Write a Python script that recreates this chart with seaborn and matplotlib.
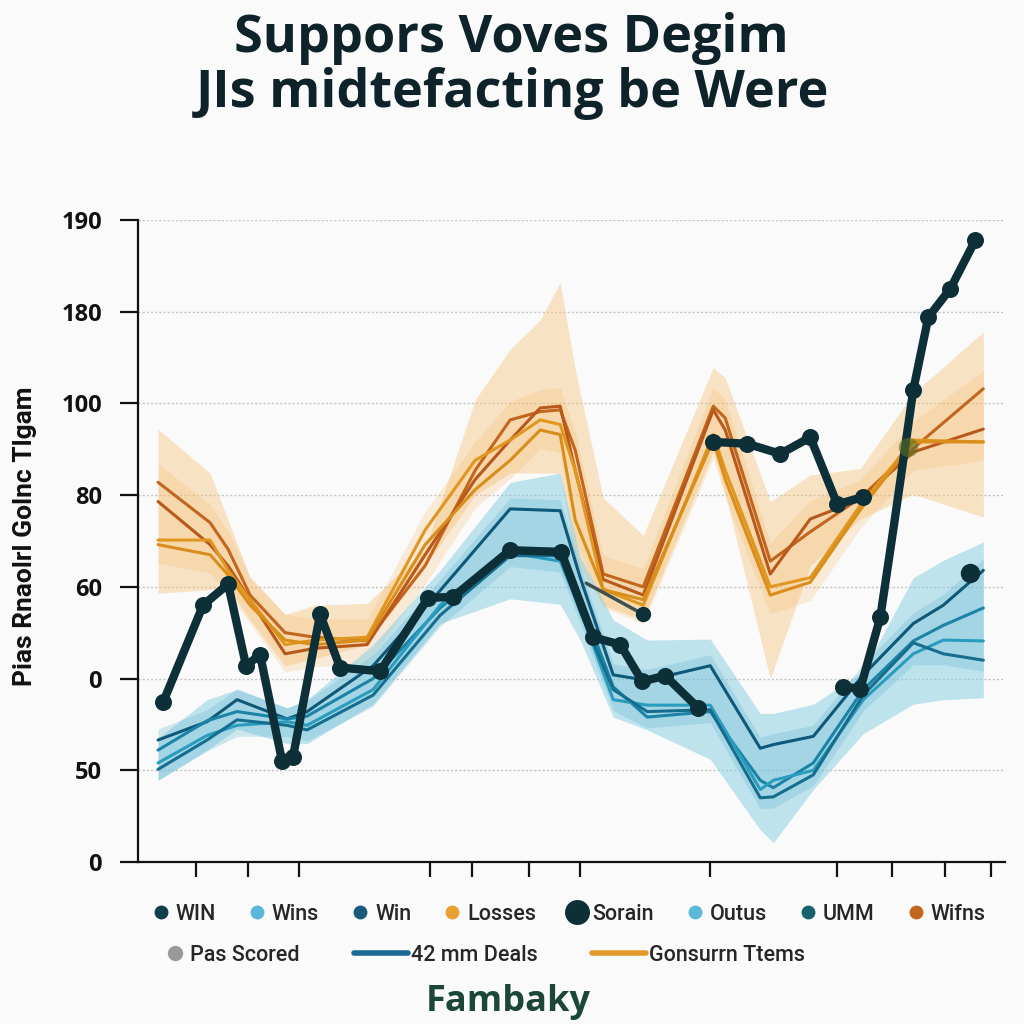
import numpy as np
import pandas as pd
import matplotlib
matplotlib.use("Agg")
import matplotlib.pyplot as plt
import seaborn as sns
from matplotlib.lines import Line2D

# ---------------- data ----------------
title_lines = ["Suppors Voves Degim", "JIs midtefacting be Were"]
y_label = "Pias Rnaolrl Golnc Tlgam"
y_tick_pos = [0, 10, 20, 30, 40, 50, 60, 70]
y_tick_labels = ["0", "50", "0", "60", "80", "100", "180", "190"]
x_tick_pos = [5.8, 11.0, 16.1, 29.2, 33.4, 39.1, 44.2, 57.2, 69.9, 75.4, 80.7, 85.3]
footer = "Fambaky"

# orange group
orange_x = [2.0, 7.2, 9.0, 11.2, 14.7, 17.7, 22.9, 28.7, 33.7, 37.2, 40.2, 42.2,
            43.7, 46.5, 50.5, 57.5, 58.7, 63.2, 67.2, 72.2, 77.5, 84.5]
orange_a = [41.4, 37.0, 34.1, 29.1, 25.0, 24.5, 24.1, 32.3, 42.7, 48.2, 49.1, 49.3,
            44.9, 31.4, 30.0, 49.7, 48.4, 32.8, 36.0, 39.7, 45.1, 51.6]
orange_b = [39.3, 34.6, 32.3, 28.6, 22.7, 23.3, 23.7, 33.5, 41.7, 46.0, 49.5, 49.7,
            42.7, 30.8, 29.1, 49.3, 47.1, 31.4, 37.4, 39.5, 44.7, 47.2]
orange_c = [35.1, 35.1, 31.8, 28.6, 23.7, 24.2, 24.5, 36.2, 43.8, 46.0, 48.2, 47.7,
            42.7, 29.7, 28.0, 46.6, 42.7, 30.0, 31.0, 38.9, 46.0, 45.8]
orange_d = [34.6, 33.5, 31.3, 28.0, 24.2, 23.7, 24.2, 34.6, 40.6, 43.8, 47.1, 46.6,
            37.3, 29.7, 28.6, 46.0, 41.7, 29.1, 30.5, 38.4, 45.8, 45.8]
orange_top = [47.2, 42.4, 37.3, 31.0, 27.0, 28.0, 28.2, 34.1, 50.4, 55.9, 59.1, 63.2,
              53.7, 39.7, 35.6, 53.9, 52.8, 39.3, 42.2, 42.9, 51.1, 57.8]
orange_bot = [29.3, 29.7, 30.0, 26.4, 21.4, 22.2, 23.7, 32.3, 40.0, 42.4, 42.4, 42.4,
              32.9, 28.0, 26.4, 44.7, 40.1, 20.0, 32.3, 37.4, 40.1, 37.6]

# blue group
blue_x = [2.0, 6.9, 9.9, 14.9, 16.9, 23.5, 30.2, 37.2, 42.2, 44.2, 47.5, 50.9,
          57.2, 62.2, 63.5, 67.5, 72.5, 77.5, 80.5, 84.5]
blue_1 = [13.3, 15.3, 17.7, 15.6, 16.4, 21.4, 29.6, 38.5, 38.3, 31.0, 20.4, 19.8,
          21.4, 12.4, 12.8, 13.7, 20.4, 26.0, 28.0, 31.8]
blue_2 = [12.2, 15.4, 16.4, 15.6, 15.9, 20.0, 27.7, 34.1, 34.1, 28.6, 19.1, 15.8,
          16.4, 8.9, 8.1, 10.8, 18.8, 24.1, 25.8, 27.7]
blue_3 = [10.8, 13.8, 14.9, 15.3, 14.9, 18.8, 28.0, 33.7, 32.8, 27.5, 17.7, 17.1,
          17.1, 7.9, 8.9, 10.0, 17.7, 22.7, 24.2, 24.1]
blue_4 = [10.1, 13.3, 15.5, 14.9, 14.4, 18.2, 26.9, 33.4, 33.4, 27.3, 18.8, 16.4,
          16.6, 7.0, 7.1, 9.5, 18.2, 23.9, 22.7, 22.0]
blue_top = [13.5, 17.7, 18.8, 16.8, 17.7, 23.7, 31.8, 41.4, 42.4, 33.3, 26.4, 24.2,
            24.3, 16.2, 16.2, 17.2, 20.8, 31.0, 32.9, 34.9]
blue_bot = [8.9, 12.2, 14.5, 12.9, 12.9, 17.2, 26.0, 28.7, 28.1, 24.2, 15.8, 14.4,
            11.2, 3.5, 2.1, 7.9, 14.0, 17.2, 17.7, 17.9]

# dark "Sorain" series, three pieces
sorain_seg = [1] * 19 + [2] * 6 + [3] * 8
sorain_x = [2.5, 6.5, 9.0, 10.8, 12.2, 14.4, 15.5, 18.2, 20.2, 24.2, 29.0, 31.5,
            37.2, 42.3, 45.5, 48.2, 50.4, 52.7, 56.0,
            57.5, 60.9, 64.2, 67.2, 69.9, 72.5,
            70.5, 72.2, 74.2, 75.6, 77.5, 79.0, 81.2, 83.7]
sorain_y = [17.4, 28.0, 30.3, 21.4, 22.6, 11.0, 11.5, 27.0, 21.2, 20.8, 28.8, 28.9,
            34.0, 33.8, 24.5, 23.7, 19.7, 20.3, 16.8,
            45.8, 45.6, 44.5, 46.3, 39.0, 39.8,
            19.1, 18.9, 26.7, 37.0, 51.5, 59.4, 62.5, 67.8]
sorain_marked = [True] * 28 + [False] + [True] * 4

gray_x = [44.8, 50.5]
gray_y = [30.4, 27.0]
olive_x = [77.0]
olive_y = [45.3]
blue_end_x = [83.2]
blue_end_y = [31.5]

legend_row1 = ["WIN", "Wins", "Win", "Losses", "Sorain", "Outus", "UMM", "Wifns"]
legend_row2 = ["Pas Scored", "42 mm Deals", "Gonsurrn Ttems"]

# ---------------- style ----------------
sns.set_theme(style="white")
plt.rcParams["font.family"] = ["Open Sans", "DejaVu Sans"]
BG = "#fafafa"
DARK = "#0c2f38"

fig = plt.figure(figsize=(10.24, 10.24), dpi=100, facecolor=BG)
ax = fig.add_axes([0.1348, 0.1582, 0.847, 0.627])
ax.set_facecolor(BG)

# bands
ax.fill_between(orange_x, orange_bot, orange_top, color="#f7c27a", alpha=0.42, lw=0)
o_stack = np.array([orange_a, orange_b, orange_c, orange_d])
ax.fill_between(orange_x, o_stack.min(0) - 2.0, o_stack.max(0) + 2.0,
                color="#f5b45a", alpha=0.22, lw=0)
ax.fill_between(blue_x, blue_bot, blue_top, color="#86cde2", alpha=0.50, lw=0)
b_stack = np.array([blue_1, blue_2, blue_3, blue_4])
ax.fill_between(blue_x, b_stack.min(0) - 1.2, b_stack.max(0) + 1.2,
                color="#5cb4d2", alpha=0.28, lw=0)

# lines
orange_df = pd.DataFrame({
    "x": orange_x * 4,
    "y": orange_a + orange_b + orange_c + orange_d,
    "s": ["a"] * len(orange_x) + ["b"] * len(orange_x) + ["c"] * len(orange_x) + ["d"] * len(orange_x),
})
sns.lineplot(data=orange_df, x="x", y="y", hue="s", estimator=None, legend=False,
             palette={"a": "#c2661e", "b": "#b8581a", "c": "#e0961f", "d": "#d98d1a"},
             linewidth=2.2, ax=ax)

blue_df = pd.DataFrame({
    "x": blue_x * 4,
    "y": blue_1 + blue_2 + blue_3 + blue_4,
    "s": ["1"] * len(blue_x) + ["2"] * len(blue_x) + ["3"] * len(blue_x) + ["4"] * len(blue_x),
})
sns.lineplot(data=blue_df, x="x", y="y", hue="s", estimator=None, legend=False,
             palette={"1": "#0f5878", "2": "#1b84a6", "3": "#2a9cbd", "4": "#166e8e"},
             linewidth=2.2, ax=ax)

ax.plot(gray_x, gray_y, color="#3d5050", lw=2.5)
ax.plot(gray_x[-1:], gray_y[-1:], "o", color=DARK, ms=10)

sorain_df = pd.DataFrame({"x": sorain_x, "y": sorain_y, "seg": sorain_seg})
sns.lineplot(data=sorain_df, x="x", y="y", units="seg", estimator=None, sort=False,
             color=DARK, linewidth=6, legend=False, ax=ax)
mk = sorain_df[sorain_marked]
sns.scatterplot(data=mk, x="x", y="y", color=DARK, s=150, linewidth=0, legend=False,
                ax=ax, zorder=5)

ax.plot(olive_x, olive_y, "o", color="#5d6f22", alpha=0.6, ms=14, mew=0, zorder=6)
ax.plot(blue_end_x, blue_end_y, "o", color=DARK, ms=14, mew=0, zorder=6)

# axes
ax.set_xlim(0, 86.7)
ax.set_ylim(0, 70)
ax.set_yticks(y_tick_pos)
ax.set_yticklabels(y_tick_labels, fontsize=17, fontweight="bold", color="#111111")
ax.set_xticks(x_tick_pos)
ax.set_xticklabels([])
ax.set_xlabel("")
ax.set_ylabel("")
for g in y_tick_pos[1:]:
    ax.axhline(g, color="#c4c4c4", lw=1.0, ls=(0, (1.5, 1.5)), zorder=0)
for s in ["top", "right"]:
    ax.spines[s].set_visible(False)
for s in ["left", "bottom"]:
    ax.spines[s].set_color("#111111")
    ax.spines[s].set_linewidth(1.6)
ax.tick_params(axis="y", direction="out", length=13, width=1.6, color="#111111", pad=13, left=True)
ax.tick_params(axis="x", direction="out", length=11, width=1.6, color="#111111", bottom=True)

fig.text(0.024, 0.476, y_label, rotation=90, ha="center", va="center",
         fontsize=19, color="#111111", fontweight="semibold",
         family=["Roboto", "DejaVu Sans"])

fig.text(0.499, 0.962, title_lines[0], ha="center", va="center", fontsize=37.5,
         fontweight="bold", color="#0d2229")
fig.text(0.5, 0.909, title_lines[1], ha="center", va="center", fontsize=37.5,
         fontweight="bold", color="#0d2229")

# legends
lprop = {"family": ["Roboto", "DejaVu Sans"], "size": 15.5, "weight": "medium"}
r1_colors = ["#0f3e4c", "#5ab8d8", "#1a5a7a", "#e8a030", DARK, "#5ab8d8", "#16636c", "#c2661e"]
r1_sizes = [10, 10, 10, 10, 18, 10, 10, 10]
h1 = [Line2D([], [], ls="", marker="o", color=c, ms=m, mew=0) for c, m in zip(r1_colors, r1_sizes)]
fig.legend(h1, legend_row1, loc="center", bbox_to_anchor=(0.556, 0.107), ncol=8,
           frameon=False, handlelength=0.7, handletextpad=0.35, columnspacing=1.55,
           prop=lprop)
h2a = [Line2D([], [], ls="", marker="o", color="#999999", ms=11, mew=0)]
fig.legend(h2a, legend_row2[:1], loc="center left", bbox_to_anchor=(0.145, 0.067),
           frameon=False, handlelength=0.7, handletextpad=0.35, prop=lprop)
h2b = [Line2D([], [], color="#1a6a94", lw=4), Line2D([], [], color="#e39a2c", lw=4)]
fig.legend(h2b, legend_row2[1:], loc="center left", bbox_to_anchor=(0.327, 0.067), ncol=2,
           frameon=False, handlelength=2.5, handletextpad=0.15, columnspacing=2.5,
           prop=lprop)

fig.text(0.496, 0.021, footer, ha="center", va="center", fontsize=26,
         fontweight="bold", color="#1b4638")

fig.savefig("out.png", dpi=100, facecolor=BG)
